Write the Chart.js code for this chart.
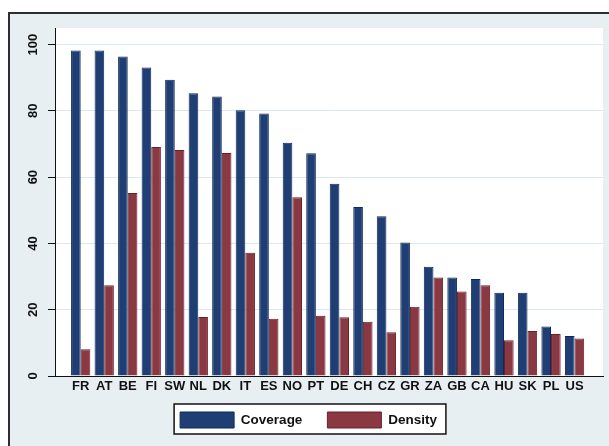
<!DOCTYPE html>
<html>
<head>
<meta charset="utf-8">
<script src="https://cdn.jsdelivr.net/npm/chart.js@4/dist/chart.umd.min.js"></script>
<style>
  html, body { margin: 0; padding: 0; background: #fff; overflow: hidden; }
  #frame {
    position: absolute; left: 8px; top: 12px; width: 640px; height: 460px;
    border: 2px solid #2e2e2e; background: #e8eff3;
  }
  #wrap { position: absolute; left: 0; top: 0; width: 609px; height: 446px; }
</style>
</head>
<body>
<div id="frame"></div>
<div id="wrap"><canvas id="chart" width="609" height="446"></canvas></div>
<script>
// countries, sorted by coverage
const countries = ['FR', 'AT', 'BE', 'FI', 'SW', 'NL', 'DK', 'IT', 'ES', 'NO', 'PT',
                   'DE', 'CH', 'CZ', 'GR', 'ZA', 'GB', 'CA', 'HU', 'SK', 'PL', 'US'];
const coverage = [98.2, 98.2, 96.4, 93.1, 89.4, 85.3, 84.3, 80.2, 79.2, 70.4, 67.2,
                  58.0, 51.0, 48.2, 40.3, 33.0, 29.7, 29.3, 25.1, 25.1, 14.9, 12.1];
const density = [8.1, 27.4, 55.2, 69.1, 68.2, 17.8, 67.3, 37.2, 17.3, 53.9, 18.2,
                 17.7, 16.4, 13.2, 20.9, 29.7, 25.5, 27.4, 10.8, 13.6, 12.7, 11.3];
const yTicks = [0, 20, 40, 60, 80, 100];

const FONT = '"Liberation Sans", Arial, sans-serif';

function legendRect(chart) {
    const hb = chart.legend.legendHitBoxes;
    if (!hb || !hb.length) return null;
    const last = hb[hb.length - 1];
    const x0 = hb[0].left - 6, x1 = last.left + last.width + 9;
    const y0 = hb[0].top - 8, y1 = hb[0].top + hb[0].height + 6;
    return { x: x0, y: y0, w: x1 - x0, h: y1 - y0 };
}

const framePlugin = {
    id: 'framePlugin',
    afterLayout(chart) {
        // stata-like legend placement
        chart.legend.left += 7;
        chart.legend.right += 7;
        chart.legend.top -= 13;
        chart.legend.bottom -= 13;
    },
    beforeDraw(chart) {
        const ctx = chart.ctx;
        const a = chart.chartArea;
        ctx.save();
        ctx.fillStyle = '#ffffff';
        ctx.fillRect(a.left, a.top, a.right - a.left, a.bottom - a.top);
        const r = legendRect(chart);
        if (r) ctx.fillRect(r.x, r.y, r.w, r.h);
        ctx.restore();
    },
    afterDraw(chart) {
        const r = legendRect(chart);
        if (!r) return;
        const ctx = chart.ctx;
        ctx.save();
        ctx.strokeStyle = '#111';
        ctx.lineWidth = 1.5;
        ctx.strokeRect(r.x, r.y, r.w, r.h);
        ctx.restore();
    }
};

new Chart(document.getElementById('chart'), {
    type: 'bar',
    data: {
        datasets: [{
            label: 'Coverage',
            data: coverage.map((v, i) => ({ x: i, y: v })),
            backgroundColor: '#1f3f74',
            borderColor: '#0f2a5a',
            borderWidth: 1
        }, {
            label: 'Density',
            data: density.map((v, i) => ({ x: i, y: v })),
            backgroundColor: '#8a3943',
            borderColor: '#6a1f29',
            borderWidth: 1
        }]
    },
    options: {
        responsive: false,
        animation: false,
        layout: { padding: { top: 28, left: 0, right: 6, bottom: 0 } },
        datasets: { bar: { categoryPercentage: 0.82, barPercentage: 1.0 } },
        scales: {
            x: {
                type: 'linear',
                offset: false,
                min: -1.093,
                max: 22.21,
                afterBuildTicks: s => { s.ticks = countries.map((c, i) => ({ value: i })); },
                afterFit: s => { s.height = 24; },
                grid: { display: false, drawTicks: false },
                border: { display: true, color: '#111', width: 1 },
                ticks: {
                    autoSkip: false,
                    maxRotation: 0,
                    padding: 3,
                    color: '#111',
                    font: { family: FONT, size: 13, weight: 'bold' },
                    callback: v => countries[v]
                }
            },
            y: {
                min: 0,
                max: 105,
                afterBuildTicks: s => { s.ticks = yTicks.map(v => ({ value: v })); },
                afterFit: s => { s.width = 55; },
                grid: { color: '#dde8ee', lineWidth: 1, tickLength: 7, tickColor: '#111' },
                border: { display: true, color: '#111', width: 1 },
                ticks: {
                    minRotation: 90,
                    maxRotation: 90,
                    crossAlign: 'center',
                    padding: 4,
                    color: '#111',
                    font: { family: FONT, size: 13, weight: 'bold' }
                }
            }
        },
        plugins: {
            legend: {
                position: 'bottom',
                maxHeight: 46,
                labels: {
                    boxWidth: 54,
                    boxHeight: 16,
                    padding: 25,
                    color: '#111',
                    font: { family: FONT, size: 13.5, weight: 'bold' }
                }
            },
            tooltip: { enabled: false }
        }
    },
    plugins: [framePlugin]
});
</script>
</body>
</html>
